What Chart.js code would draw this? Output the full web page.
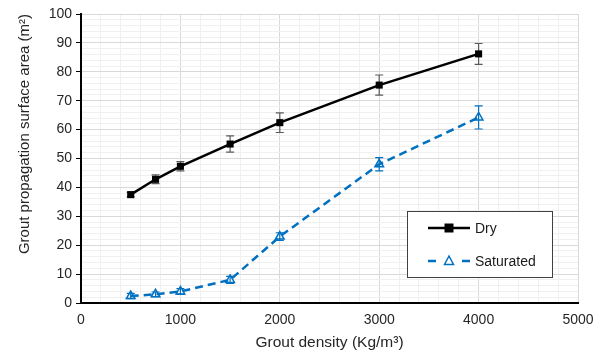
<!DOCTYPE html>
<html>
<head>
<meta charset="utf-8">
<script src="https://cdn.jsdelivr.net/npm/chart.js@4"></script>
<style>
  html, body { margin: 0; padding: 0; background: #ffffff; }
  #wrap { width: 606px; height: 357px; }
</style>
</head>
<body>
<div id="wrap"><canvas id="chart" width="606" height="357"></canvas></div>
<script>
// Grout density (Kg/m³)
const densities = [500, 750, 1000, 1500, 2000, 3000, 4000];
// Propagation surface area (m²) and error bar half-widths
const dryArea = [37.5, 42.8, 47.3, 55.0, 62.4, 75.4, 86.2];
const dryErr = [0.8, 1.5, 1.6, 2.8, 3.4, 3.5, 3.6];
const satArea = [2.4, 3.0, 4.0, 8.0, 23.0, 48.0, 64.2];
const satErr = [0.9, 0.8, 1.0, 1.2, 1.3, 2.3, 4.0];

const xTitle = 'Grout density (Kg/m³)';
const yTitle = 'Grout propagation surface area (m²)';

const BLUE = '#0070c0';
const FONT = "'Liberation Sans', Arial, sans-serif";

const toPoints = (xs, ys) => xs.map((x, i) => ({ x: x, y: ys[i] }));

// Vertical error bars with caps, drawn under the markers
const errorBars = {
  id: 'errorBars',
  beforeDatasetsDraw(chart) {
    const { ctx, scales: { x, y } } = chart;
    chart.data.datasets.forEach(ds => {
      ctx.save();
      ctx.strokeStyle = ds.errColor;
      ctx.lineWidth = 1.2;
      ds.data.forEach((p, i) => {
        const e = ds.errors[i];
        const px = x.getPixelForValue(p.x);
        const yt = y.getPixelForValue(p.y + e);
        const yb = y.getPixelForValue(p.y - e);
        ctx.beginPath();
        ctx.moveTo(px, yt); ctx.lineTo(px, yb);
        ctx.moveTo(px - 4, yt); ctx.lineTo(px + 4, yt);
        ctx.moveTo(px - 4, yb); ctx.lineTo(px + 4, yb);
        ctx.stroke();
      });
      ctx.restore();
    });
  }
};

// Boxed legend placed inside the plot area
const boxLegend = {
  id: 'boxLegend',
  afterDraw(chart) {
    const { ctx } = chart;
    const bx = 407.5, by = 211.5, bw = 145, bh = 66;
    ctx.save();
    ctx.fillStyle = '#ffffff';
    ctx.fillRect(bx, by, bw, bh);
    ctx.strokeStyle = '#404040';
    ctx.lineWidth = 1;
    ctx.strokeRect(bx, by, bw, bh);
    const rows = [228, 261];
    chart.data.datasets.forEach((ds, i) => {
      const yy = rows[i];
      ctx.strokeStyle = ds.borderColor;
      ctx.lineWidth = ds.borderWidth;
      ctx.beginPath();
      if (ds.borderDash && ds.borderDash.length) {
        ctx.moveTo(428, yy); ctx.lineTo(436, yy);
        ctx.moveTo(462, yy); ctx.lineTo(470, yy);
      } else {
        ctx.moveTo(428, yy); ctx.lineTo(470, yy);
      }
      ctx.stroke();
      if (ds.pointStyle === 'rect') {
        ctx.fillStyle = ds.pointBackgroundColor;
        ctx.fillRect(449 - 4.5, yy - 4.5, 9, 9);
      } else {
        ctx.strokeStyle = ds.pointBorderColor;
        ctx.lineWidth = 1.5;
        ctx.beginPath();
        ctx.moveTo(449, yy - 5); ctx.lineTo(444.5, yy + 3.5); ctx.lineTo(453.5, yy + 3.5); ctx.closePath();
        ctx.stroke();
      }
      ctx.fillStyle = '#1a1a1a';
      ctx.font = '14px ' + FONT;
      ctx.textBaseline = 'middle';
      ctx.fillText(ds.label, 475, yy + 1);
    });
    ctx.restore();
  }
};

const majorGrid = (step) => (c) => (c.tick && c.tick.value % step === 0) ? '#d9d9d9' : '#f0f0f0';

new Chart(document.getElementById('chart'), {
  type: 'line',
  data: {
    datasets: [
      {
        label: 'Dry',
        data: toPoints(densities, dryArea),
        errors: dryErr,
        errColor: '#595959',
        borderColor: '#000000',
        borderWidth: 2.5,
        pointStyle: 'rect',
        pointRadius: 5,
        pointBackgroundColor: '#000000',
        pointBorderColor: '#000000',
        pointBorderWidth: 0,
        tension: 0
      },
      {
        label: 'Saturated',
        data: toPoints(densities, satArea),
        errors: satErr,
        errColor: BLUE,
        borderColor: BLUE,
        borderWidth: 2.5,
        borderDash: [8, 5],
        pointStyle: 'triangle',
        pointRadius: 5,
        pointBackgroundColor: 'rgba(255,255,255,0)',
        pointBorderColor: BLUE,
        pointBorderWidth: 1.5,
        tension: 0
      }
    ]
  },
  options: {
    responsive: false,
    animation: false,
    layout: { padding: { left: 0, top: 14, right: 28, bottom: 0 } },
    plugins: { legend: { display: false }, tooltip: { enabled: false } },
    scales: {
      x: {
        type: 'linear',
        min: 0, max: 5000,
        afterFit: s => { s.height = 54; },
        border: { color: '#000000', width: 2 },
        grid: { color: majorGrid(1000), drawTicks: false, lineWidth: 1 },
        ticks: {
          stepSize: 200, autoSkip: false, maxRotation: 0, padding: 9,
          color: '#262626', font: { family: FONT, size: 14 },
          callback: v => (v % 1000 === 0 ? String(v) : '')
        },
        title: {
          display: true, text: xTitle, color: '#262626',
          font: { family: FONT, size: 15.5 }, padding: { top: 2, bottom: 5 }
        }
      },
      y: {
        min: 0, max: 100,
        afterFit: s => { s.width = 81; },
        border: { color: '#000000', width: 2 },
        grid: {
          color: majorGrid(10), lineWidth: 1,
          tickColor: c => (c.tick && c.tick.value % 10 === 0 ? '#000000' : 'rgba(0,0,0,0)'),
          tickLength: 5
        },
        ticks: {
          stepSize: 2, autoSkip: false, padding: 4,
          color: '#262626', font: { family: FONT, size: 14 },
          callback: v => (v % 10 === 0 ? String(v) : '')
        },
        title: {
          display: true, text: yTitle, color: '#262626', align: 'end',
          font: { family: FONT, size: 15 }, padding: { top: 16, bottom: 0 }
        }
      }
    }
  },
  plugins: [errorBars, boxLegend]
});
</script>
</body>
</html>
